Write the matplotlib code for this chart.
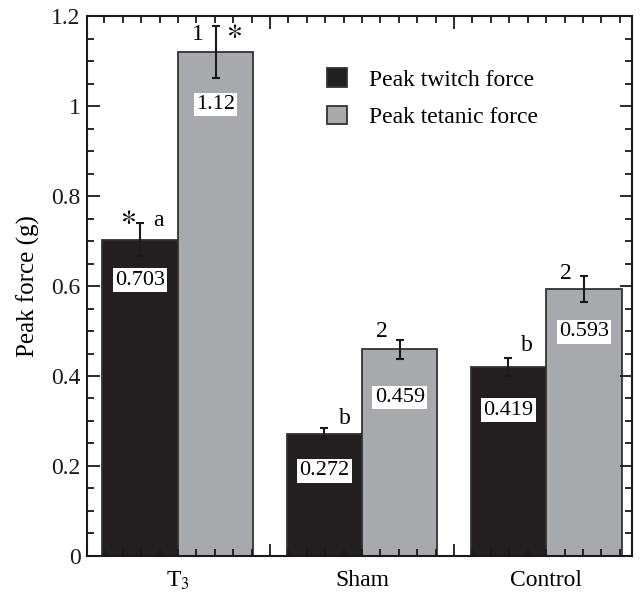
import numpy as np
import matplotlib
matplotlib.use('Agg')
import matplotlib.pyplot as plt
from matplotlib.ticker import MultipleLocator, FixedLocator

plt.rcParams['font.family'] = ['Liberation Serif', 'DejaVu Serif']
plt.rcParams['mathtext.fontset'] = 'stix'

# data
groups = ['T$_3$', 'Sham', 'Control']
twitch = [0.703, 0.272, 0.419]
tetanic = [1.12, 0.459, 0.593]
twitch_err = [0.036, 0.012, 0.020]
tetanic_err = [0.057, 0.022, 0.029]
twitch_lbl = ['0.703', '0.272', '0.419']
tetanic_lbl = ['1.12', '0.459', '0.593']
# significance marks (left of error bar, right of error bar)
twitch_marks = [('*', 'a'), ('', 'b'), ('', 'b')]
tetanic_marks = [('1', '*'), ('2', ''), ('2', '')]

black = '#231f20'
grey = '#a7a9ac'
edge = '#333333'

fig = plt.figure(figsize=(6.43, 5.94), dpi=100)
ax = fig.add_axes([0.135, 0.064, 0.848, 0.909])

x = np.arange(len(groups))
w = 0.41
ax.bar(x - w/2, twitch, w, color=black, edgecolor=edge, linewidth=1.3,
       label='Peak twitch force', zorder=1)
ax.bar(x + w/2, tetanic, w, color=grey, edgecolor=edge, linewidth=1.3,
       label='Peak tetanic force', zorder=1)
ax.errorbar(x - w/2, twitch, yerr=twitch_err, fmt='none', ecolor='#1a1a1a',
            elinewidth=1.5, capsize=3, capthick=1.5, zorder=3)
ax.errorbar(x + w/2, tetanic, yerr=tetanic_err, fmt='none', ecolor='#1a1a1a',
            elinewidth=1.5, capsize=3, capthick=1.5, zorder=3)

# value boxes inside the bars (drop below bar top, in data units)
tw_drop = [0.090, 0.083, 0.095]
te_drop = [0.116, 0.107, 0.095]
box = dict(boxstyle='square,pad=0.1', fc='white', ec='none')
for xi, v, d, s in zip(x - w/2, twitch, tw_drop, twitch_lbl):
    ax.text(xi, v - d, s, ha='center', va='center', fontsize=16, bbox=box, zorder=4)
for xi, v, d, s in zip(x + w/2, tetanic, te_drop, tetanic_lbl):
    ax.text(xi, v - d, s, ha='center', va='center', fontsize=16, bbox=box, zorder=4)

# letters / asterisks next to the error bars
def mark(xi, top, txt, dx, dy):
    if not txt:
        return
    if txt == '*':
        ax.annotate(r'$\ast$', (xi, top), xytext=(dx, dy + 2), textcoords='offset points',
                    ha='center', va='center', fontsize=22, zorder=4)
    else:
        ax.annotate(txt, (xi, top), xytext=(dx, dy), textcoords='offset points',
                    ha='center', va='center', fontsize=17, zorder=4)

tw_dy = [3, 8, 10]
tw_dx = [13, 15, 13]
for i in range(3):
    top = twitch[i] + twitch_err[i]
    mark(x[i] - w/2, top, twitch_marks[i][0], -9, tw_dy[i])
    mark(x[i] - w/2, top, twitch_marks[i][1], tw_dx[i], tw_dy[i] - 1)
te_dy = [-6, 6, 2]
for i in range(3):
    top = tetanic[i] + tetanic_err[i]
    mark(x[i] + w/2, top, tetanic_marks[i][0], -13, te_dy[i])
    mark(x[i] + w/2, top, tetanic_marks[i][1], 13, te_dy[i] + 1)

ax.set_xlim(-0.495, 2.467)
ax.set_ylim(0, 1.2)
ax.yaxis.set_minor_locator(MultipleLocator(0.05))
ax.set_yticks([0, 0.2, 0.4, 0.6, 0.8, 1.0, 1.2], ['0', '0.2', '0.4', '0.6', '0.8', '1', '1.2'])
ax.xaxis.set_major_locator(FixedLocator([0.5, 1.5]))
ax.xaxis.set_minor_locator(MultipleLocator(0.1))
ax.set_xticklabels(['', ''])
ax.tick_params(which='both', direction='in', top=True, right=True, width=1.3,
               colors='#1a1a1a', labelsize=17, pad=4.5)
ax.tick_params(which='major', length=9)
ax.tick_params(which='minor', length=5)
for s in ax.spines.values():
    s.set_linewidth(1.5)
    s.set_color('#1a1a1a')

sec = ax.secondary_xaxis('bottom')
sec.set_xticks(x, groups)
sec.tick_params(length=0, labelsize=17, pad=10)
sec.spines['bottom'].set_visible(False)

ax.set_ylabel('Peak force (g)', fontsize=18, labelpad=8)

ax.legend(loc='upper left', bbox_to_anchor=(0.44, 0.903), frameon=False, fontsize=17,
          handlelength=0.85, handleheight=0.85, handletextpad=0.95, labelspacing=0.62,
          borderaxespad=0, borderpad=0)

fig.savefig('out.png', dpi=100)
